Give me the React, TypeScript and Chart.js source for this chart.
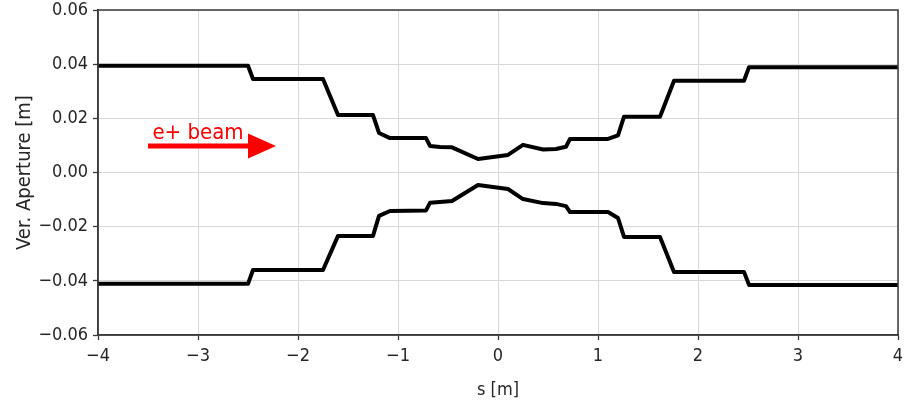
import { useEffect, useRef } from "react";
import { Chart, registerables } from "chart.js";

Chart.register(...registerables);

// ---- data ----
const sPositions = [
  -4, -2.5, -2.45, -1.75, -1.6, -1.25, -1.19, -1.08, -0.72, -0.68, -0.58, -0.46, -0.2,
  0.1, 0.25, 0.45, 0.58, 0.68, 0.72, 1.1, 1.2, 1.26, 1.62, 1.76, 2.46, 2.51, 4,
];
const upperAperture = [
  0.0394, 0.0394, 0.0345, 0.0345, 0.0212, 0.0212, 0.0146, 0.0127, 0.0127, 0.0098, 0.0094,
  0.0093, 0.005, 0.0065, 0.0102, 0.0085, 0.0087, 0.0095, 0.0124, 0.0124, 0.0137, 0.0206,
  0.0206, 0.0339, 0.0339, 0.0389, 0.0389,
];
const lowerAperture = [
  -0.0411, -0.0411, -0.036, -0.036, -0.0234, -0.0234, -0.016, -0.0142, -0.014, -0.0112,
  -0.0109, -0.0105, -0.0046, -0.0061, -0.0098, -0.0113, -0.0116, -0.0124, -0.0146, -0.0146,
  -0.0168, -0.0238, -0.0238, -0.0367, -0.0367, -0.0415, -0.0415,
];
const xTickValues = [-4, -3, -2, -1, 0, 1, 2, 3, 4];
const yTickValues = [-0.06, -0.04, -0.02, 0, 0.02, 0.04, 0.06];

const xTitle = "s [m]";
const yTitle = "Ver. Aperture [m]";
const beamLabel = "e+ beam";
// annotation anchor points in data coordinates
const arrowTailS = -3.5;
const arrowHeadBaseS = -2.5;
const arrowTipS = -2.22;
const arrowLevel = 0.0098;
const labelS = -3.0;
const labelLevel = 0.0124;

const FONT = "'DejaVu Sans Condensed', 'DejaVu Sans', sans-serif";
const TEXT_COLOR = "#262626";
const SPINE_COLOR = "#3a3a3a";

const fmtMinus = (s: string) => s.replace("-", "\u2212");

export default function App() {
  const ref = useRef<HTMLCanvasElement | null>(null);

  useEffect(() => {
    if (!ref.current) return;

    const framePlugin = {
      id: "frame",
      afterDraw(chart: any) {
        const { ctx, chartArea } = chart;
        ctx.save();
        ctx.strokeStyle = SPINE_COLOR;
        ctx.lineWidth = 1.5;
        ctx.strokeRect(chartArea.left, chartArea.top, chartArea.right - chartArea.left, chartArea.bottom - chartArea.top);
        ctx.restore();
      },
    };

    const arrowPlugin = {
      id: "beamArrow",
      afterDatasetsDraw(chart: any) {
        const { ctx } = chart;
        const xs = chart.scales.x;
        const ys = chart.scales.y;
        const x0 = xs.getPixelForValue(arrowTailS);
        const x1 = xs.getPixelForValue(arrowHeadBaseS);
        const x2 = xs.getPixelForValue(arrowTipS);
        const ya = ys.getPixelForValue(arrowLevel);
        ctx.save();
        ctx.strokeStyle = "#ff0000";
        ctx.fillStyle = "#ff0000";
        ctx.lineWidth = 5;
        ctx.beginPath();
        ctx.moveTo(x0, ya);
        ctx.lineTo(x1 + 1, ya);
        ctx.stroke();
        ctx.beginPath();
        ctx.moveTo(x1, ya - 12.5);
        ctx.lineTo(x2, ya);
        ctx.lineTo(x1, ya + 12.5);
        ctx.closePath();
        ctx.fill();
        ctx.font = `22px ${FONT}`;
        ctx.textAlign = "center";
        ctx.textBaseline = "alphabetic";
        ctx.fillText(beamLabel, xs.getPixelForValue(labelS), ys.getPixelForValue(labelLevel));
        ctx.restore();
      },
    };

    const lineDataset = (values: number[]) => ({
      data: sPositions.map((s, i) => ({ x: s, y: values[i] })),
      borderColor: "#000000",
      borderWidth: 4,
      pointRadius: 0,
      tension: 0,
      fill: false,
      borderJoinStyle: "round" as const,
    });

    const chart = new Chart(ref.current, {
      type: "line",
      data: {
        datasets: [lineDataset(upperAperture), lineDataset(lowerAperture)],
      },
      options: {
        animation: false,
        responsive: false,
        maintainAspectRatio: false,
        layout: { padding: { top: 10, right: 13, left: 0, bottom: 0 } },
        plugins: {
          legend: { display: false },
          tooltip: { enabled: false },
        },
        scales: {
          x: {
            type: "linear",
            min: -4,
            max: 4,
            afterFit: (scale: any) => {
              scale.height = 76;
              scale.paddingLeft = 0;
              scale.paddingRight = 0;
            },
            afterBuildTicks: (scale: any) => {
              scale.ticks = xTickValues.map((v) => ({ value: v }));
            },
            ticks: {
              color: TEXT_COLOR,
              font: { family: FONT, size: 18 },
              padding: 6,
              maxRotation: 0,
              callback: (v: any) => fmtMinus(String(v)),
            },
            grid: {
              color: "#d8d8d8",
              lineWidth: 1,
              tickLength: 5,
              tickColor: SPINE_COLOR,
              tickWidth: 1.3,
            },
            border: { display: true, color: SPINE_COLOR, width: 1.5 },
            title: {
              display: true,
              text: xTitle,
              color: TEXT_COLOR,
              font: { family: FONT, size: 18 },
              padding: { top: 0, bottom: 10 },
            },
          },
          y: {
            type: "linear",
            min: -0.06,
            max: 0.06,
            afterFit: (scale: any) => {
              scale.width = 98;
              scale.paddingTop = 0;
              scale.paddingBottom = 0;
            },
            afterBuildTicks: (scale: any) => {
              scale.ticks = yTickValues.map((v) => ({ value: v }));
            },
            ticks: {
              color: TEXT_COLOR,
              font: { family: FONT, size: 18 },
              padding: 5,
              callback: (v: any) => fmtMinus(Number(v).toFixed(2)),
            },
            grid: {
              color: "#d8d8d8",
              lineWidth: 1,
              tickLength: 5,
              tickColor: SPINE_COLOR,
              tickWidth: 1.3,
            },
            border: { display: true, color: SPINE_COLOR, width: 1.5 },
            title: {
              display: true,
              text: yTitle,
              color: TEXT_COLOR,
              font: { family: FONT, size: 20 },
              padding: { top: 13, bottom: 0 },
            },
          },
        },
      },
      plugins: [arrowPlugin, framePlugin],
    });

    return () => chart.destroy();
  }, []);

  return (
    <div style={{ position: "absolute", left: 0, top: 0, width: 911, height: 411, background: "#fff" }}>
      <canvas ref={ref} width={911} height={411} style={{ width: 911, height: 411, display: "block" }} />
    </div>
  );
}
